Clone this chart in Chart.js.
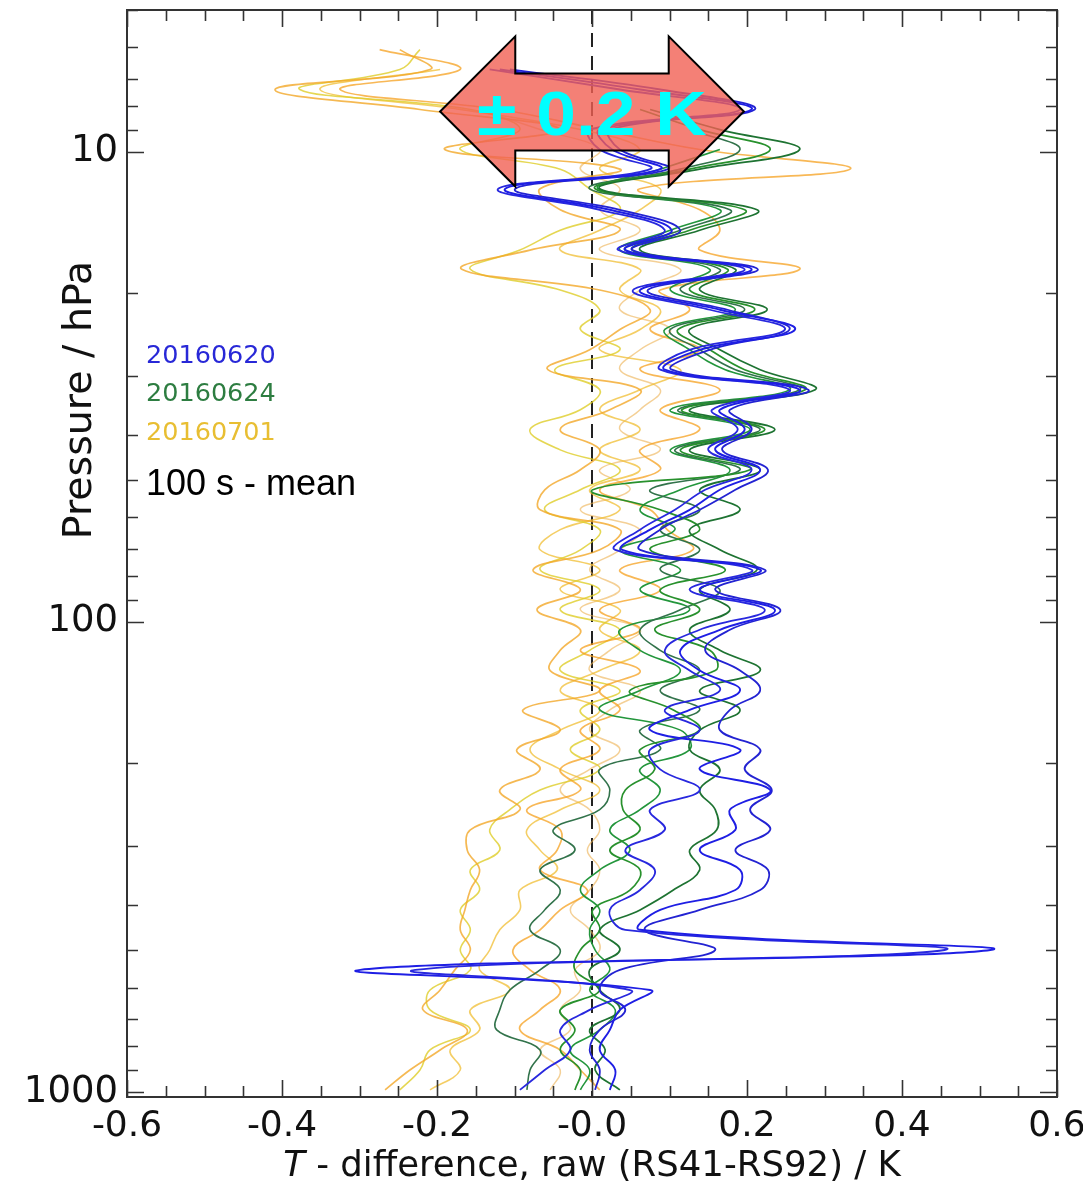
<!DOCTYPE html>
<html>
<head>
<meta charset="utf-8">
<script src="https://cdn.jsdelivr.net/npm/chart.js@4.4.0/dist/chart.umd.min.js"></script>
<style>
  html, body { margin: 0; padding: 0; background: #ffffff; }
  #wrap { position: relative; width: 1083px; height: 1187px; }
  canvas { display: block; }
</style>
</head>
<body>
<div id="wrap"><canvas id="c" width="1083" height="1187"></canvas></div>
<script>
// Pressure levels (hPa), top of profile to ground
const pressure = [6.07, 6.69, 7.38, 8.14, 8.98, 9.90, 10.9, 12.0, 13.3, 14.7, 16.2, 17.8, 19.7, 21.7, 23.9, 26.4, 29.1, 32.1, 35.4, 39.0, 43.1, 47.5, 52.4, 57.8, 63.7, 70.3, 77.5, 85.5, 94.3, 104, 115, 127, 140, 154, 170, 187, 206, 228, 251, 277, 306, 337, 372, 410, 452, 499, 550, 607, 669, 738, 814, 898, 990];

// 20160620 soundings: T difference RS41-RS92 (K)
const run0620a = [null, -0.119, 0.062, 0.206, 0.010, 0.026, 0.088, -0.112, 0.023, 0.103, 0.043, 0.206, 0.062, 0.165, 0.262, 0.139, 0.094, 0.268, 0.165, 0.197, 0.159, 0.217, 0.165, 0.126, 0.075, 0.039, 0.217, 0.139, 0.236, 0.165, 0.114, 0.139, 0.191, 0.126, 0.075, 0.191, 0.139, 0.230, 0.178, 0.185, 0.139, 0.191, 0.185, 0.088, 0.062, 0.514, -0.299, 0.075, 0.036, 0.023, 0.010, 0.030, 0.023];
const run0620b = [null, -0.132, 0.036, 0.191, -0.003, 0.010, 0.075, -0.121, 0.010, 0.094, 0.034, 0.197, 0.053, 0.152, 0.249, 0.126, 0.088, 0.255, 0.155, 0.188, 0.150, 0.206, 0.146, 0.107, 0.062, 0.030, 0.206, 0.126, 0.223, 0.139, 0.094, 0.126, 0.165, 0.094, 0.139, 0.075, 0.088, 0.139, 0.075, 0.094, 0.043, 0.081, 0.062, 0.023, 0.043, 0.455, -0.228, 0.049, -0.003, -0.041, -0.028, -0.061, -0.093];
const run0620c = [null, -0.106, 0.088, 0.210, 0.023, 0.036, 0.098, -0.099, 0.036, 0.114, 0.052, 0.214, 0.072, 0.175, 0.255, 0.152, 0.103, 0.279, 0.178, 0.206, 0.168, 0.227, 0.185, 0.139, 0.088, 0.062, 0.223, 0.159, 0.243, 0.178, 0.146, 0.191, 0.217, 0.178, 0.165, 0.217, 0.197, 0.232, 0.204, 0.230, 0.185, 0.227, 0.217, 0.139, 0.068, 0.159, 0.036, 0.010, 0.043, 0.010, -0.003, 0.010, 0.004];

// 20160624 soundings
const run0624a = [null, null, null, 0.075, 0.165, 0.268, 0.139, 0.010, 0.213, 0.139, 0.062, 0.185, 0.139, 0.226, 0.126, 0.165, 0.217, 0.288, 0.126, 0.236, 0.126, 0.217, 0.139, 0.191, 0.126, 0.165, 0.213, 0.139, 0.178, 0.126, 0.165, 0.217, 0.139, 0.191, 0.139, 0.126, 0.165, 0.139, 0.159, 0.161, 0.126, 0.139, 0.105, 0.062, 0.010, 0.036, -0.003, 0.010, 0.036, -0.003, 0.017, 0.004, 0.036];
const run0624b = [null, null, null, 0.062, 0.139, 0.230, 0.126, 0.004, 0.197, 0.126, 0.052, 0.175, 0.126, 0.210, 0.111, 0.152, 0.197, 0.275, 0.116, 0.223, 0.114, 0.204, 0.001, 0.088, 0.139, 0.075, 0.172, 0.088, 0.139, 0.081, 0.152, 0.159, 0.049, 0.105, 0.139, 0.062, 0.081, 0.043, 0.040, 0.062, 0.023, 0.062, 0.049, 0.001, 0.010, -0.015, -0.022, 0.010, -0.041, -0.022, -0.041, -0.015, -0.022];
const run0624c = [null, null, null, null, 0.126, 0.191, 0.114, -0.003, 0.178, 0.114, 0.043, 0.165, 0.114, 0.197, 0.101, 0.139, 0.185, 0.268, 0.111, 0.217, 0.107, 0.191, 0.075, 0.139, 0.088, 0.139, 0.088, 0.165, 0.114, 0.062, 0.088, 0.139, 0.088, 0.139, 0.062, 0.088, 0.010, 0.023, 0.010, -0.050, -0.022, -0.067, -0.041, -0.061, -0.080, -0.041, -0.067, -0.106, -0.119, -0.123, -0.067, -0.080, -0.084];
const run0624d = [null, null, null, null, null, 0.165, 0.088, 0.008, 0.165, 0.101, 0.036, 0.152, 0.101, 0.185, 0.094, 0.126, 0.172, 0.255, 0.101, 0.204, 0.101, 0.178, 0.114, 0.062, 0.107, 0.036, 0.114, 0.062, 0.126, 0.036, 0.062, 0.114, 0.062, 0.010, 0.114, 0.126, 0.062, 0.088, 0.062, 0.023, 0.049, 0.010, -0.015, 0.010, -0.003, 0.004, 0.023, -0.003, 0.030, 0.010, -0.028, -0.003, -0.015];

// 20160701 soundings
const run0701a = [-0.248, -0.209, -0.409, -0.222, -0.041, -0.190, 0.036, -0.067, -0.041, 0.036, -0.080, -0.168, 0.010, 0.075, 0.036, -0.003, -0.057, 0.062, 0.023, -0.041, 0.010, -0.015, -0.061, -0.067, 0.036, 0.010, -0.076, -0.015, -0.071, -0.015, -0.041, -0.054, 0.010, -0.089, -0.041, -0.097, -0.067, -0.119, -0.093, -0.157, -0.161, -0.145, -0.157, -0.164, -0.170, -0.157, -0.177, -0.196, -0.218, -0.161, -0.196, -0.235, -0.267];
const run0701b = [-0.274, -0.170, -0.325, -0.119, 0.010, 0.139, 0.333, 0.062, 0.139, 0.165, 0.139, 0.268, 0.088, 0.126, 0.075, 0.139, 0.062, 0.165, 0.088, 0.139, 0.062, 0.088, 0.010, 0.075, 0.097, 0.130, 0.036, 0.088, 0.010, 0.062, -0.015, 0.062, 0.010, 0.036, -0.015, 0.010, -0.041, -0.015, -0.084, -0.041, -0.045, -0.067, -0.006, -0.041, -0.067, -0.102, -0.080, -0.041, -0.067, -0.093, -0.041, -0.015, 0.010];
const run0701c = [-0.222, -0.248, -0.377, -0.157, -0.093, -0.170, -0.041, -0.003, 0.036, -0.041, -0.093, -0.157, -0.041, 0.010, -0.015, 0.036, -0.048, 0.010, -0.015, -0.080, -0.041, 0.036, -0.015, -0.061, 0.010, -0.015, -0.067, 0.010, -0.041, 0.036, -0.003, -0.041, 0.036, -0.015, 0.010, -0.028, 0.010, -0.067, -0.106, -0.132, -0.119, -0.157, -0.145, -0.170, -0.157, -0.170, -0.157, -0.209, -0.209, -0.157, -0.209, -0.222, -0.248];
const run0701d = [null, -0.196, -0.351, -0.170, -0.015, 0.062, 0.010, 0.088, 0.062, 0.010, -0.041, 0.062, 0.036, 0.088, 0.062, 0.010, 0.114, 0.062, 0.010, 0.062, 0.010, 0.062, -0.003, 0.036, -0.041, -0.067, 0.010, -0.041, 0.036, 0.010, 0.062, 0.010, -0.041, 0.010, -0.041, -0.080, -0.041, 0.010, -0.041, -0.084, -0.067, -0.045, -0.093, -0.093, -0.119, -0.132, -0.145, -0.106, -0.157, -0.145, -0.183, -0.170, -0.209];
const run0701e = [null, null, null, -0.145, -0.067, 0.010, -0.015, 0.036, 0.010, 0.062, 0.010, 0.114, 0.062, 0.036, 0.101, 0.062, 0.036, 0.088, 0.062, 0.036, 0.088, 0.010, 0.049, -0.015, 0.062, 0.036, -0.003, 0.036, -0.015, 0.062, 0.023, -0.003, 0.062, 0.023, -0.003, 0.036, -0.003, -0.041, -0.003, 0.010, -0.006, 0.010, -0.003, -0.028, -0.003, 0.010, -0.022, -0.015, -0.041, -0.028, -0.067, -0.041, -0.054];

// Axis ticks
const xMinorTicks = [-0.6, -0.55, -0.5, -0.45, -0.4, -0.35, -0.3, -0.25, -0.2, -0.15, -0.1, -0.05, 0, 0.05, 0.1, 0.15, 0.2, 0.25, 0.3, 0.35, 0.4, 0.45, 0.5, 0.55, 0.6];
const xMajorTicks = [-0.6, -0.4, -0.2, 0, 0.2, 0.4, 0.6];
const xTickLabels = ['-0.6', '-0.4', '-0.2', '-0.0', '0.2', '0.4', '0.6'];
const yTicks = [5, 6, 7, 8, 9, 10, 20, 30, 40, 50, 60, 70, 80, 90, 100, 200, 300, 400, 500, 600, 700, 800, 900, 1000];
const yMajorTicks = [10, 100, 1000];
const yTickLabels = ['10', '100', '1000'];
const xRange = [-0.6, 0.6];
const yRange = [5, 1025];
const zeroRef = 0;

// Legend entries and annotation
const legendEntries = [
  { text: '20160620', color: 'rgb(40,40,215)' },
  { text: '20160624', color: 'rgb(45,125,65)' },
  { text: '20160701', color: 'rgb(232,190,50)' }
];
const averagingNote = '100 s - mean';
const bandLabel = '\u00B1 0.2 K';
const band = { tip: 0.196, neck: 0.099, pHeadTop: 5.69, pBodyTop: 6.82, pMid: 8.22, pBodyBottom: 9.95, pHeadBottom: 11.87, labelShare: 0.755 };

const toPoints = arr => pressure.map((p, i) => arr[i] == null ? null : { x: arr[i], y: p }).filter(Boolean);

const series = [
  { data: run0620a, color: 'rgb(30,30,228)', width: 1.9 },
  { data: run0620b, color: 'rgb(40,40,222)', width: 1.8 },
  { data: run0620c, color: 'rgb(35,35,210)', width: 1.8 },
  { data: run0624a, color: 'rgb(30,115,50)', width: 1.7 },
  { data: run0624b, color: 'rgb(40,145,45)', width: 1.7 },
  { data: run0624c, color: 'rgb(50,115,75)', width: 1.6 },
  { data: run0624d, color: 'rgb(35,150,60)', width: 1.6 },
  { data: run0701a, color: 'rgba(242,168,40,0.8)', width: 1.7 },
  { data: run0701b, color: 'rgba(245,160,30,0.75)', width: 1.7 },
  { data: run0701c, color: 'rgba(222,205,40,0.8)', width: 1.6 },
  { data: run0701d, color: 'rgba(240,190,50,0.75)', width: 1.6 },
  { data: run0701e, color: 'rgba(236,176,80,0.6)', width: 1.5 }
];

const datasets = series.map(s => ({
  data: toPoints(s.data),
  borderColor: s.color,
  borderWidth: s.width,
  showLine: true,
  pointRadius: 0,
  tension: 0.4,
  fill: false
}));
datasets.push({
  data: [{ x: zeroRef, y: yRange[0] }, { x: zeroRef, y: yRange[1] }],
  borderColor: '#222',
  borderWidth: 2,
  borderDash: [14, 9],
  showLine: true,
  pointRadius: 0,
  tension: 0
});

const near = (a, b) => Math.abs(a - b) < 1e-6;

// Frame, inward tick marks, axis titles, legend and the ±0.2 K band arrow
const decorations = {
  id: 'decorations',
  afterDraw(chart) {
    const { ctx, chartArea: ca, scales: { x, y } } = chart;
    ctx.save();
    ctx.strokeStyle = '#333';
    ctx.lineWidth = 1.6;
    ctx.beginPath();
    xMinorTicks.forEach(v => {
      const px = Math.round(x.getPixelForValue(v)) + 0.5;
      const len = xMajorTicks.some(m => near(m, v)) ? 17 : 11;
      ctx.moveTo(px, ca.bottom); ctx.lineTo(px, ca.bottom - len);
      ctx.moveTo(px, ca.top); ctx.lineTo(px, ca.top + len);
    });
    yTicks.forEach(v => {
      const py = Math.round(y.getPixelForValue(v)) + 0.5;
      const len = yMajorTicks.includes(v) ? 17 : 11;
      ctx.moveTo(ca.left, py); ctx.lineTo(ca.left + len, py);
      ctx.moveTo(ca.right, py); ctx.lineTo(ca.right - len, py);
    });
    ctx.stroke();
    ctx.lineWidth = 2;
    ctx.strokeRect(ca.left, ca.top, ca.right - ca.left, ca.bottom - ca.top);

    // axis titles
    ctx.fillStyle = '#111';
    ctx.textBaseline = 'alphabetic';
    const titleFont = '35.5px "DejaVu Sans"';
    ctx.font = 'italic ' + titleFont;
    const tPart = 'T';
    const wT = ctx.measureText(tPart).width;
    ctx.font = titleFont;
    const rest = ' - difference, raw (RS41-RS92) / K';
    const wR = ctx.measureText(rest).width;
    const cx = (ca.left + ca.right) / 2;
    const sx = cx - (wT + wR) / 2;
    ctx.textAlign = 'left';
    ctx.font = 'italic ' + titleFont;
    ctx.fillText(tPart, sx, 1176);
    ctx.font = titleFont;
    ctx.fillText(rest, sx + wT, 1176);

    ctx.save();
    ctx.translate(91, 400);
    ctx.rotate(-Math.PI / 2);
    ctx.textAlign = 'center';
    ctx.font = '39.5px "DejaVu Sans"';
    ctx.fillText('Pressure / hPa', 0, 0);
    ctx.restore();

    // legend
    ctx.textAlign = 'left';
    ctx.textBaseline = 'middle';
    ctx.font = '25.5px "DejaVu Sans"';
    legendEntries.forEach((e, i) => {
      ctx.fillStyle = e.color;
      ctx.fillText(e.text, 146, 356 + i * 38.5);
    });
    ctx.fillStyle = '#000';
    ctx.font = '36px "Liberation Sans"';
    ctx.fillText(averagingNote, 146, 485);

    // band arrow
    const xl = x.getPixelForValue(-band.tip), xr = x.getPixelForValue(band.tip);
    const nl = x.getPixelForValue(-band.neck), nr = x.getPixelForValue(band.neck);
    const yHT = y.getPixelForValue(band.pHeadTop), yBT = y.getPixelForValue(band.pBodyTop);
    const yM = y.getPixelForValue(band.pMid), yBB = y.getPixelForValue(band.pBodyBottom);
    const yHB = y.getPixelForValue(band.pHeadBottom);
    ctx.beginPath();
    ctx.moveTo(xl, yM);
    ctx.lineTo(nl, yHT);
    ctx.lineTo(nl, yBT);
    ctx.lineTo(nr, yBT);
    ctx.lineTo(nr, yHT);
    ctx.lineTo(xr, yM);
    ctx.lineTo(nr, yHB);
    ctx.lineTo(nr, yBB);
    ctx.lineTo(nl, yBB);
    ctx.lineTo(nl, yHB);
    ctx.closePath();
    ctx.fillStyle = 'rgba(241,96,84,0.8)';
    ctx.fill();
    ctx.lineWidth = 2;
    ctx.strokeStyle = '#000';
    ctx.lineJoin = 'miter';
    ctx.stroke();

    ctx.fillStyle = '#00ffff';
    ctx.font = 'bold 63px "Liberation Sans"';
    ctx.textAlign = 'center';
    ctx.textBaseline = 'alphabetic';
    const lw = ctx.measureText(bandLabel).width;
    const stretch = ((xr - xl) * band.labelShare) / lw;
    ctx.translate(x.getPixelForValue(zeroRef), 135);
    ctx.scale(stretch, 1);
    ctx.fillText(bandLabel, 0, 0);
    ctx.restore();
  }
};

new Chart(document.getElementById('c'), {
  type: 'scatter',
  data: { datasets },
  options: {
    responsive: false,
    animation: false,
    devicePixelRatio: 1,
    layout: { padding: { left: 0, right: 26, top: 10, bottom: 0 } },
    plugins: { legend: { display: false }, tooltip: { enabled: false } },
    scales: {
      x: {
        type: 'linear',
        min: xRange[0], max: xRange[1],
        afterBuildTicks: s => { s.ticks = xMinorTicks.map(v => ({ value: v })); },
        afterFit: s => { s.height = 90; s.paddingLeft = 0; s.paddingRight = 0; },
        ticks: {
          autoSkip: false, maxRotation: 0, padding: 8,
          color: '#111',
          font: { family: 'DejaVu Sans', size: 36 },
          callback: v => { const i = xMajorTicks.findIndex(m => near(m, v)); return i >= 0 ? xTickLabels[i] : ''; }
        },
        grid: { display: false, drawTicks: false },
        border: { display: false }
      },
      y: {
        type: 'logarithmic',
        min: yRange[0], max: yRange[1],
        reverse: true,
        afterBuildTicks: s => { s.ticks = yTicks.map(v => ({ value: v })); },
        afterFit: s => { s.width = 127; s.paddingTop = 0; s.paddingBottom = 0; },
        ticks: {
          autoSkip: false, padding: 9,
          color: '#111',
          font: { family: 'DejaVu Sans', size: 37 },
          callback: v => { const i = yMajorTicks.indexOf(v); return i >= 0 ? yTickLabels[i] : ''; }
        },
        grid: { display: false, drawTicks: false },
        border: { display: false }
      }
    }
  },
  plugins: [decorations]
});
</script>
</body>
</html>
